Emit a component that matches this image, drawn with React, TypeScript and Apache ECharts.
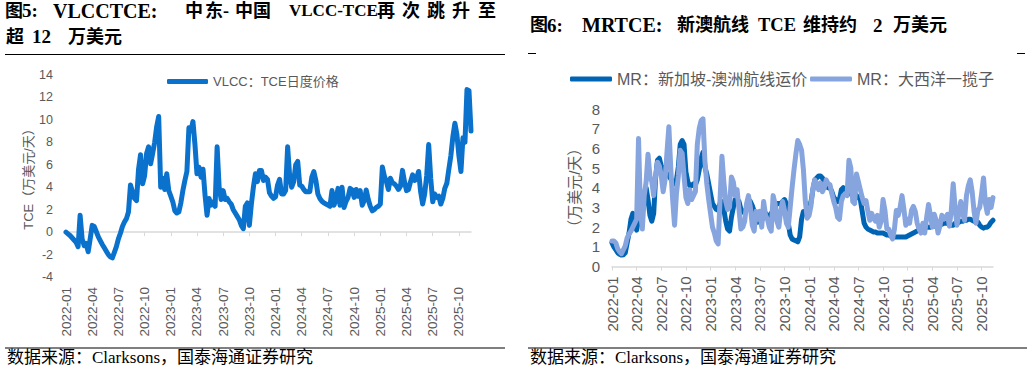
import React, { useEffect, useRef } from 'react';
import * as echarts from 'echarts';

// ---------- data ----------
const WEEKS = 202;
// weekly categories, Jan 2022 .. mid-Nov 2025 (label = yyyy-MM of the week)
const weekCats: string[] = Array.from({ length: WEEKS }, (_, k) => {
  const m = Math.floor((k * 12) / 52);
  const y = 2022 + Math.floor(m / 12);
  const mo = (m % 12) + 1;
  return `${y}-${String(mo).padStart(2, '0')}|${k}`;
});

// 图5: VLCC TCE (万美元/天)
const vlccTce = [
  0.0, -0.15, -0.3, -0.5, -0.7, -0.9, -1.3, 1.5, -0.6, -1.2,
  -1.0, -1.75, -0.6, 0.6, 0.5, 0.05, -0.4, -0.75, -1.1, -1.4,
  -1.7, -2.0, -2.2, -2.3, -1.8, -1.3, -0.6, -0.1, 0.5, 0.9,
  1.2, 1.8, 4.2, 3.6, 3.0, 2.8, 5.6, 6.9, 4.3, 5.0,
  7.0, 7.6, 6.1, 7.0, 8.0, 9.4, 10.3, 4.0, 4.8, 3.8,
  5.2, 3.7, 3.2, 2.7, 1.9, 1.7, 1.8, 2.6, 3.7, 4.6,
  5.4, 9.3, 9.0, 9.85, 7.8, 5.2, 5.8, 4.9, 5.6, 3.3,
  1.5, 3.0, 2.4, 2.7, 2.3, 7.6, 4.0, 2.9, 3.7, 2.9,
  3.0, 2.7, 2.5, 2.0, 1.7, 1.4, 1.1, 0.6, 0.3, 2.3,
  2.6, 0.6, 2.5, 4.0, 5.2, 4.5, 5.5, 5.5, 4.6, 4.9,
  4.7, 3.5, 3.2, 3.0, 3.15, 4.2, 4.7, 3.4, 3.4, 3.7,
  7.6, 5.0, 4.0, 4.5, 6.0, 6.3, 4.2, 4.1, 3.8, 3.6,
  3.6, 3.6, 4.9, 5.4, 4.6, 3.4, 3.0, 2.75, 2.6, 2.5,
  2.4, 2.3, 3.7, 2.4, 2.9, 3.9, 2.4, 4.0, 2.2, 2.75,
  3.1, 3.9, 3.75, 3.1, 3.8, 3.2, 3.7, 2.4, 2.8, 3.75,
  2.9, 2.3, 1.9, 2.0, 2.2, 2.3, 2.5, 5.8, 5.0, 4.5,
  3.8, 4.8, 4.4, 4.3, 4.1, 3.8, 4.1, 5.5, 4.5, 3.7,
  3.8, 4.5, 5.1, 4.6, 4.8, 5.4, 3.6, 2.5, 3.4, 5.0,
  7.8, 4.8, 2.7, 3.4, 3.1, 3.2, 2.5, 3.0, 3.9, 4.35,
  5.6, 6.8, 8.5, 9.7, 8.7, 6.8, 5.4, 8.4, 8.0, 12.7,
  12.6, 9.0,
];

// 图6: MR 新加坡-澳洲航线 (万美元/天)
const mrSgAu = [
  1.2, 1.0, 0.85, 0.7, 0.62, 0.58, 0.6, 0.7, 1.2, 1.7,
  2.4, 2.7, 2.2, 1.85, 2.4, 2.85, 2.7, 3.3, 4.0, 3.4,
  2.6, 2.3, 2.7, 4.5, 5.4, 5.5, 5.1, 5.0, 4.9, 4.7,
  4.6, 4.45, 4.3, 4.2, 4.4, 5.05, 6.2, 6.4, 6.2, 4.8,
  4.3, 4.1, 4.1, 4.2, 4.15, 4.4, 4.9, 5.5, 5.8, 5.05,
  4.7, 4.2, 3.7, 3.2, 3.05, 2.9, 2.85, 3.2, 3.3, 2.9,
  2.3, 1.9, 1.8, 2.5, 3.0, 3.4, 3.4, 3.3, 2.9, 2.8,
  2.7, 3.0, 3.4, 3.3, 3.1, 2.8, 2.6, 2.25, 2.3, 2.35,
  2.5, 2.7, 2.6, 2.5, 2.7, 2.85, 3.0, 3.2, 3.2, 3.2,
  3.3, 3.4, 3.2, 2.2, 1.6, 1.4, 1.35, 1.3, 1.25, 1.5,
  2.4, 2.8, 2.8, 2.7, 2.8, 3.3, 3.9, 4.4, 4.5, 4.6,
  4.6, 4.5, 4.3, 4.1, 4.0, 4.0, 3.8, 3.5, 3.4, 3.3,
  3.4, 3.9, 4.0, 3.9, 3.8, 3.7, 3.8, 3.7, 3.7, 3.6,
  3.5, 3.4, 2.8, 2.2, 2.0, 1.9, 1.85, 1.8, 1.75, 1.75,
  1.7, 1.7, 1.7, 1.7, 1.65, 1.6, 1.6, 1.55, 1.5, 1.5,
  1.5, 1.5, 1.5, 1.5, 1.5, 1.5, 1.55, 1.6, 1.65, 1.7,
  1.75, 1.8, 1.85, 1.9, 1.95, 2.0, 2.0, 2.0, 2.0, 2.05,
  2.05, 2.1, 2.1, 2.15, 2.15, 2.2, 2.2, 2.2, 2.15, 2.1,
  2.1, 2.2, 2.2, 2.25, 2.3, 2.3, 2.35, 2.35, 2.4, 2.4,
  2.35, 2.3, 2.3, 2.25, 2.1, 2.0, 1.95, 2.0, 2.0, 2.1,
  2.25, 2.35,
];

// 图6: MR 大西洋一揽子 (万美元/天)
const mrAtlantic = [
  1.3, 1.3, 1.2, 0.9, 0.75, 0.65, 0.85, 1.05, 1.45, 1.65,
  1.8, 2.0, 2.2, 2.4, 6.5, 2.85, 1.9, 3.6, 4.3, 5.7,
  4.6, 4.3, 3.6, 4.6, 5.3, 5.1, 4.6, 3.8, 4.4, 5.8,
  7.1, 5.0, 3.4, 2.1, 3.7, 4.6, 5.9, 5.75, 4.6, 3.5,
  3.2, 3.9, 3.4, 3.6, 3.8, 6.2, 7.0, 7.4, 7.5, 5.4,
  4.2, 3.4, 2.7, 2.0, 1.7, 1.3, 1.15, 3.4, 5.6, 4.3,
  3.3, 2.9, 3.0, 4.55, 4.3, 3.6, 3.9, 2.9, 1.9, 2.0,
  2.3, 3.2, 3.6, 3.0, 2.1, 1.8, 2.8, 2.4, 2.8, 2.0,
  3.3, 2.6, 2.4, 2.0, 1.8, 3.6, 3.2, 2.3, 2.0, 2.85,
  3.3, 2.85, 2.2, 2.0, 3.0, 4.0, 4.9, 5.7, 6.4, 6.2,
  5.9, 4.9, 3.3, 2.45, 2.6, 3.1, 4.0, 4.4, 4.2, 3.9,
  4.25, 3.8, 4.0, 4.4, 4.2, 4.15, 3.7, 3.3, 3.0, 2.5,
  2.4, 3.3, 3.6, 3.7, 3.6, 5.4, 5.0, 3.3, 3.2, 4.7,
  4.3, 3.9, 3.5, 3.2, 3.35, 2.8, 2.35, 2.7, 2.45, 2.3,
  2.6, 2.0, 2.3, 3.4, 2.85, 1.9, 1.9, 1.6, 1.4, 1.9,
  2.85, 2.6, 3.0, 3.6, 2.9, 2.1, 2.4, 2.2, 2.85, 3.05,
  2.8, 2.2, 1.9, 1.7, 2.2, 1.7, 2.5, 3.15, 2.6, 2.0,
  2.65, 2.35, 1.7, 2.05, 2.6, 2.4, 2.5, 2.65, 2.05, 2.85,
  4.2, 3.0, 2.1, 2.7, 3.3, 2.7, 2.35, 3.6, 4.1, 4.4,
  3.8, 2.8, 2.2, 2.85, 3.0, 3.7, 4.5, 3.2, 2.7, 3.4,
  3.0, 3.5,
];

const seriesNames = {
  vlcc: 'VLCC：TCE日度价格',
  sgau: 'MR：新加坡-澳洲航线运价',
  atl: 'MR：大西洋一揽子',
};

// ---------- layout / style constants ----------
const SANS = '"Liberation Sans", Arial, "Noto Sans CJK SC", sans-serif';
const SERIF = '"Liberation Serif", "Times New Roman", "Noto Sans CJK SC", serif';
const GRAY = '#595959';
const AXIS = '#D9D9D9';
const C_VLCC = '#0A72CC';
const C_DARK = '#0064B4';
const C_LIGHT = '#86A4DE';

// [text, x, fontSize]
const titleLeft1: [string, number, number][] = [
  ['图', 5, 18], ['5:', 22, 19], ['VLCCTCE:', 53, 20], ['中', 185, 18], ['东', 205, 18], ['-', 223, 18], ['中', 235, 18], ['国', 253, 18],
  ['VLCC-TCE', 289, 17], ['再', 377, 18], ['次', 402, 18], ['跳', 427, 18], ['升', 452, 18], ['至', 478, 18],
];
const titleLeft2: [string, number, number][] = [['超', 6, 18], ['12', 32, 19], ['万美元', 68, 18]];
const titleRight: [string, number, number][] = [
  ['图', 530, 18], ['6:', 547, 19], ['MRTCE:', 582, 20], ['新澳航线', 677, 18], ['TCE', 758, 18.5], ['维持约', 803, 18], ['2', 873, 19], ['万美元', 893, 18],
];
const sourceText = '数据来源：Clarksons，国泰海通证券研究';

function titleTexts(pieces: [string, number, number][], y: number) {
  return pieces.map(([t, x, fs]) => ({
    type: 'text',
    x,
    y,
    style: {
      text: t,
      fontSize: fs,
      fontWeight: 'bold',
      fontFamily: SERIF,
      fill: '#000',
      textAlign: 'left',
      textVerticalAlign: 'middle',
      verticalAlign: 'middle',
    },
  }));
}

const hLine = (x1: number, x2: number, y: number) => ({
  type: 'line',
  shape: { x1, y1: y, x2, y2: y },
  style: { stroke: '#000', lineWidth: 1 },
});

const fmtLabel = (v: string) => v.slice(0, 7);

export default function App() {
  const ref = useRef<HTMLDivElement>(null);
  useEffect(() => {
    const chart = echarts.init(ref.current!, null, { renderer: 'svg' });
    const option: any = {
      animation: false,
      backgroundColor: '#fff',
      textStyle: { fontFamily: SANS },
      grid: [
        { left: 66, top: 75, width: 405, height: 202 },
        { left: 612, top: 109, width: 381, height: 157.5 },
      ],
      legend: [
        {
          data: [seriesNames.vlcc], left: 167, top: 75, padding: 0,
          itemWidth: 41, itemHeight: 5, icon: 'roundRect', itemGap: 5,
          textStyle: { fontSize: 13, color: GRAY, fontFamily: SANS },
        },
        {
          data: [seriesNames.sgau], left: 570, top: 71, padding: 0,
          itemWidth: 42, itemHeight: 5, icon: 'roundRect',
          textStyle: { fontSize: 16, color: GRAY, fontFamily: SANS },
        },
        {
          data: [seriesNames.atl], left: 810, top: 71, padding: 0,
          itemWidth: 42, itemHeight: 5, icon: 'roundRect',
          textStyle: { fontSize: 16, color: GRAY, fontFamily: SANS },
        },
      ],
      xAxis: [
        {
          gridIndex: 0, type: 'category', data: weekCats, boundaryGap: false, position: 'bottom',
          axisLine: { onZero: true, lineStyle: { color: AXIS, width: 1.5 } },
          axisTick: { interval: 12, length: 4, lineStyle: { color: AXIS, width: 1 } },
          axisLabel: { show: false },
          splitLine: { show: false },
        },
        {
          gridIndex: 0, type: 'category', data: weekCats, boundaryGap: false, position: 'bottom',
          axisLine: { show: false, onZero: false },
          axisTick: { show: false },
          axisLabel: { interval: 12, rotate: 90, margin: 10, fontSize: 13.5, color: GRAY, formatter: fmtLabel },
          splitLine: { show: false },
        },
        {
          gridIndex: 1, type: 'category', data: weekCats, boundaryGap: false, position: 'bottom',
          axisLine: { lineStyle: { color: AXIS, width: 1.5 } },
          axisTick: { interval: 12, length: 4, lineStyle: { color: AXIS, width: 1 } },
          axisLabel: { interval: 12, rotate: 90, margin: 10, fontSize: 15, color: GRAY, formatter: fmtLabel },
          splitLine: { show: false },
        },
      ],
      yAxis: [
        {
          gridIndex: 0, type: 'value', min: -4, max: 14, interval: 2,
          axisLine: { show: false }, axisTick: { show: false }, splitLine: { show: false },
          axisLabel: { fontSize: 12.5, color: GRAY, margin: 13 },
          name: 'TCE（万美元/天）', nameLocation: 'middle', nameGap: 31, nameRotate: 90,
          nameTextStyle: { fontSize: 13, color: GRAY, fontFamily: SANS },
        },
        {
          gridIndex: 1, type: 'value', min: 0, max: 8, interval: 1,
          axisLine: { show: false }, axisTick: { show: false }, splitLine: { show: false },
          axisLabel: { fontSize: 15, color: GRAY, margin: 12 },
          name: '（万美元/天）', nameLocation: 'middle', nameGap: 30, nameRotate: 90,
          nameTextStyle: { fontSize: 15, color: GRAY, fontFamily: SANS },
        },
      ],
      series: [
        {
          type: 'line', name: seriesNames.vlcc, xAxisIndex: 0, yAxisIndex: 0, data: vlccTce,
          symbol: 'none', showSymbol: false,
          lineStyle: { color: C_VLCC, width: 5, cap: 'round', join: 'round' },
          itemStyle: { color: C_VLCC },
        },
        {
          type: 'line', name: seriesNames.sgau, xAxisIndex: 2, yAxisIndex: 1, data: mrSgAu,
          symbol: 'none', showSymbol: false,
          lineStyle: { color: C_DARK, width: 5, cap: 'round', join: 'round' },
          itemStyle: { color: C_DARK },
        },
        {
          type: 'line', name: seriesNames.atl, xAxisIndex: 2, yAxisIndex: 1, data: mrAtlantic,
          symbol: 'none', showSymbol: false,
          lineStyle: { color: C_LIGHT, width: 5, cap: 'round', join: 'round' },
          itemStyle: { color: C_LIGHT },
        },
      ],
      graphic: {
        elements: [
          ...titleTexts(titleLeft1, 10.5),
          ...titleTexts(titleLeft2, 36.5),
          ...titleTexts(titleRight, 25),
          hLine(5, 505, 54.5),
          hLine(528, 536, 53.5),
          hLine(1017, 1025, 53.5),
          hLine(5, 505, 348),
          hLine(528, 1027, 348),
          {
            type: 'text', x: 7, y: 357,
            style: { text: sourceText, fontSize: 17, fontFamily: SERIF, fill: '#000', textVerticalAlign: 'middle', verticalAlign: 'middle' },
          },
          {
            type: 'text', x: 530, y: 357,
            style: { text: sourceText, fontSize: 17, fontFamily: SERIF, fill: '#000', textVerticalAlign: 'middle', verticalAlign: 'middle' },
          },
        ],
      },
    };
    chart.setOption(option);
    return () => chart.dispose();
  }, []);
  return (
    <div
      ref={ref}
      style={{ position: 'absolute', left: 0, top: 0, width: 1032, height: 372, background: '#fff' }}
    />
  );
}
